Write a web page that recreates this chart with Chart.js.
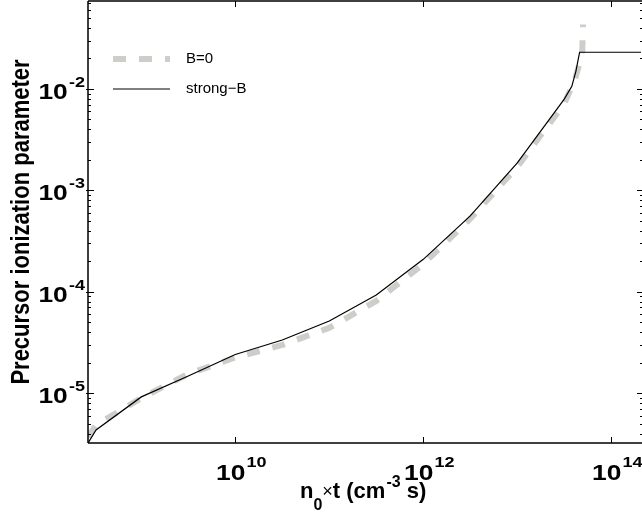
<!DOCTYPE html>
<html>
<head>
<meta charset="utf-8">
<script src="https://cdn.jsdelivr.net/npm/chart.js@4"></script>
<style>
  html, body { margin: 0; padding: 0; background: #fff; }
  #wrap { position: relative; width: 642px; height: 516px; }
</style>
</head>
<body>
<div id="wrap"><canvas id="ionChart" width="642" height="516"></canvas></div>
<script>
// 前驱电离参数随 n0*t 的变化
const xB0 = [2.71e8, 3.3e8, 1e9, 3.16e9, 1e10, 3.16e10, 1e11, 3.16e11, 1e12, 3.16e12, 1e13, 3.16e13, 4.1e13, 4.9e13, 5.0e13];
const yB0 = [3.70e-6, 4.85e-6, 8.97e-6, 1.55e-5, 2.25e-5, 2.99e-5, 4.41e-5, 8.13e-5, 1.88e-4, 5.25e-4, 1.71e-3, 7.16e-3, 1.24e-2, 2.18e-2, 4.32e-2];

const xStrong = [2.71e8, 3.3e8, 1e9, 3.16e9, 1e10, 3.16e10, 1e11, 3.16e11, 1e12, 3.16e12, 1e13, 3.16e13, 3.8e13, 4.2e13, 4.6e13, 2.1e14];
const yStrong = [3.22e-6, 4.34e-6, 9.2e-6, 1.48e-5, 2.41e-5, 3.35e-5, 5.16e-5, 9.3e-5, 2.09e-4, 5.61e-4, 1.87e-3, 7.93e-3, 1.06e-2, 1.49e-2, 2.30e-2, 2.30e-2];

// 坐标轴刻度
const xMajorTicks = [1e10, 1e12, 1e14];
const xTickExp = ['10', '12', '14'];
const yMajorTicks = [1e-5, 1e-4, 1e-3, 1e-2];
const yTickExp = ['-5', '-4', '-3', '-2'];
const seriesLabels = ['B=0', 'strong\u2212B'];

const X_MIN = 2.71e8, X_MAX = 2.07e14;
const Y_MIN = 3.23e-6, Y_MAX = 7.36e-2;

const GRAY = '#cfcdc9';
const FONT = '"Liberation Sans", Arial, Helvetica, sans-serif';
const STRETCH = 1.2;   // 刻度标签横向拉伸

function pairs(xs, ys) {
    return xs.map((x, i) => ({ x: x, y: ys[i] }));
}

// 10^n 标签总宽度
function powWidth(ctx, exp, baseSize, supSize) {
    ctx.font = 'bold ' + baseSize + 'px ' + FONT;
    const w1 = ctx.measureText('10').width;
    ctx.font = 'bold ' + supSize + 'px ' + FONT;
    const w2 = ctx.measureText(exp).width;
    return (w1 + 1 + w2) * STRETCH;
}

function drawPow(ctx, exp, left, baseline, supBaseline, baseSize, supSize) {
    ctx.save();
    ctx.translate(left, 0);
    ctx.scale(STRETCH, 1);
    ctx.textAlign = 'left';
    ctx.textBaseline = 'alphabetic';
    ctx.font = 'bold ' + baseSize + 'px ' + FONT;
    ctx.fillText('10', 0, baseline);
    const w1 = ctx.measureText('10').width;
    ctx.font = 'bold ' + supSize + 'px ' + FONT;
    ctx.fillText(exp, w1 + 1, supBaseline);
    ctx.restore();
}

// 边框, 刻度, 标签, 图例
const framePlugin = {
    id: 'frame',
    afterDraw(chart) {
        const ctx = chart.ctx;
        const area = chart.chartArea;
        const xs = chart.scales.x;
        const ys = chart.scales.y;
        const L = area.left, R = area.right, T = area.top, B = area.bottom;

        ctx.save();
        ctx.strokeStyle = '#000';
        ctx.fillStyle = '#000';

        // 边框 (右侧在画布外)
        ctx.lineWidth = 1.5;
        ctx.beginPath();
        ctx.moveTo(L, T); ctx.lineTo(R + 2, T);
        ctx.moveTo(L, T); ctx.lineTo(L, B);
        ctx.moveTo(L, B); ctx.lineTo(R + 2, B);
        ctx.stroke();

        // x 主刻度
        ctx.lineWidth = 1;
        ctx.beginPath();
        xMajorTicks.forEach(v => {
            const px = Math.round(xs.getPixelForValue(v)) + 0.5;
            ctx.moveTo(px, B); ctx.lineTo(px, B - 6);
            ctx.moveTo(px, T); ctx.lineTo(px, T + 6);
        });
        ctx.stroke();

        // y 主、次刻度
        ctx.beginPath();
        for (let e = -6; e <= -1; e++) {
            for (let k = 1; k <= 9; k++) {
                const v = k * Math.pow(10, e);
                if (v < Y_MIN || v > Y_MAX) continue;
                const py = Math.round(ys.getPixelForValue(v)) + 0.5;
                const len = k === 1 ? 6 : 3;
                ctx.moveTo(L - (k === 1 ? 2 : 0), py); ctx.lineTo(L + len, py);
                ctx.moveTo(R + 2, py); ctx.lineTo(R + 2 - len, py);
            }
        }
        ctx.stroke();

        // y 刻度标签
        yMajorTicks.forEach((v, i) => {
            const py = ys.getPixelForValue(v);
            const w = powWidth(ctx, yTickExp[i], 22, 15);
            drawPow(ctx, yTickExp[i], 85 - w, py + 10, py - 2, 22, 15);
        });

        // x 刻度标签
        xMajorTicks.forEach((v, i) => {
            const px = xs.getPixelForValue(v);
            const w = powWidth(ctx, xTickExp[i], 22, 15);
            drawPow(ctx, xTickExp[i], px + 6 - w / 2, B + 37, B + 24, 22, 15);
        });

        // x 轴标题: n0×t (cm-3 s)
        let cx = 300;
        const bl = 498;
        ctx.textAlign = 'left';
        ctx.textBaseline = 'alphabetic';
        ctx.font = 'bold 22px ' + FONT;
        ctx.fillText('n', cx, bl); cx += ctx.measureText('n').width;
        ctx.font = 'bold 16px ' + FONT;
        ctx.fillText('0', cx, bl + 12); cx += ctx.measureText('0').width;
        ctx.font = '18px ' + FONT;
        ctx.fillText('\u00d7', cx, bl - 1); cx += ctx.measureText('\u00d7').width;
        ctx.font = 'bold 22px ' + FONT;
        ctx.fillText('t (cm', cx, bl); cx += ctx.measureText('t (cm').width;
        ctx.font = 'bold 16px ' + FONT;
        ctx.fillText('-3', cx + 1, bl - 11); cx += ctx.measureText('-3').width + 1;
        ctx.font = 'bold 22px ' + FONT;
        ctx.fillText(' s)', cx, bl);

        // y 轴标题
        ctx.save();
        ctx.translate(29, (T + B) / 2);
        ctx.scale(STRETCH, 1);
        ctx.rotate(-Math.PI / 2);
        ctx.textAlign = 'center';
        ctx.font = 'bold 22px ' + FONT;
        ctx.fillText('Precursor ionization parameter', 0, 0);
        ctx.restore();

        // 图例
        const legendY = [59, 89];
        chart.data.datasets.forEach((ds, i) => {
            ctx.save();
            ctx.strokeStyle = ds.borderColor;
            ctx.lineWidth = ds.borderWidth;
            ctx.setLineDash(ds.borderDash || []);
            ctx.lineCap = 'butt';
            ctx.beginPath();
            ctx.moveTo(113, legendY[i]); ctx.lineTo(170, legendY[i]);
            ctx.stroke();
            ctx.restore();
            ctx.font = '15px ' + FONT;
            ctx.textBaseline = 'middle';
            ctx.textAlign = 'left';
            ctx.fillText(ds.label, 186, legendY[i]);
        });

        ctx.restore();
    }
};

const ctx = document.getElementById('ionChart');
new Chart(ctx, {
    type: 'line',
    data: {
        datasets: [{
            label: seriesLabels[0],
            data: pairs(xB0, yB0),
            borderColor: GRAY,
            borderWidth: 6,
            borderDash: [13, 13],
            borderCapStyle: 'butt',
            pointRadius: 0,
            tension: 0,
            order: 1
        }, {
            label: seriesLabels[1],
            data: pairs(xStrong, yStrong),
            borderColor: '#000000',
            borderWidth: 1.2,
            pointRadius: 0,
            tension: 0,
            order: 0
        }]
    },
    options: {
        responsive: false,
        animation: false,
        devicePixelRatio: 1,
        layout: { padding: { top: 1, right: 1, left: 0, bottom: 0 } },
        plugins: {
            legend: { display: false },
            tooltip: { enabled: false }
        },
        scales: {
            x: {
                type: 'logarithmic',
                min: X_MIN,
                max: X_MAX,
                grid: { display: false },
                border: { display: false },
                ticks: { display: false },
                afterFit(scale) { scale.height = 73; }
            },
            y: {
                type: 'logarithmic',
                min: Y_MIN,
                max: Y_MAX,
                grid: { display: false },
                border: { display: false },
                ticks: { display: false },
                afterFit(scale) { scale.width = 88; }
            }
        }
    },
    plugins: [framePlugin]
});
</script>
</body>
</html>
